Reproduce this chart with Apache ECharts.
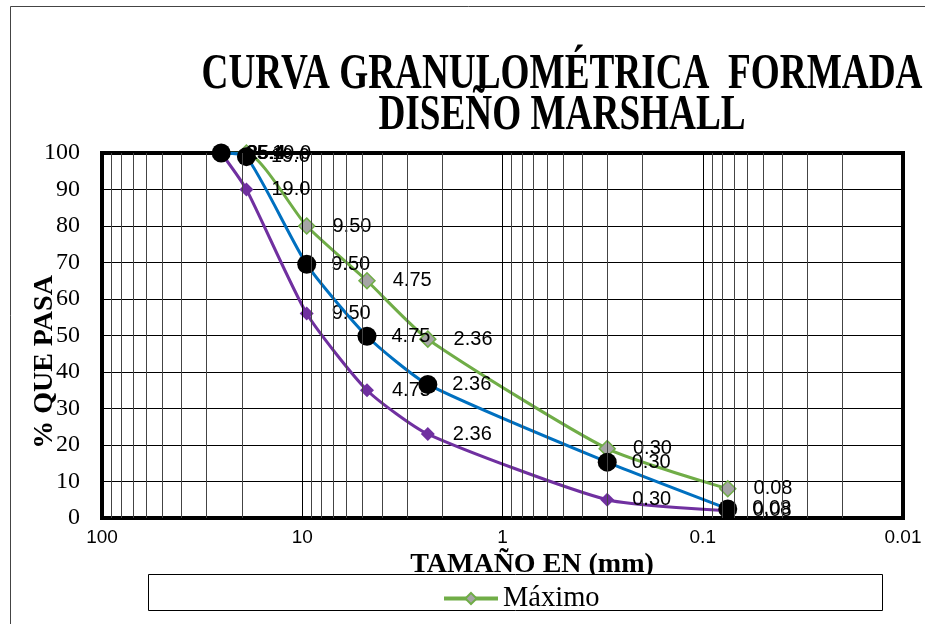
<!DOCTYPE html>
<html><head><meta charset="utf-8">
<script src="https://cdn.jsdelivr.net/npm/echarts@6/dist/echarts.min.js"></script>
<style>html,body{margin:0;padding:0;background:#fff}#c{width:925px;height:624px}</style>
</head><body><div id="c"></div>
<script>
var sizes = [25.4, 19.0, 9.50, 4.75, 2.36, 0.30, 0.075];
var sizeLabels = ['25.4', '19.0', '9.50', '4.75', '2.36', '0.30', '0.08'];
var maximo = [100, 100, 80, 65, 49, 19, 8];
var formada = [100, 99, 69.5, 49.8, 36.6, 15.3, 2.5];
var minimo = [100, 90, 56, 35, 23, 5, 2];
var xTickLabels = ['100', '10', '1', '0.1', '0.01'];
var majorGrid = [10, 1, 0.1];
var minorGrid = [];
[10, 1, 0.1, 0.01].forEach(function (d) { for (var k = 2; k <= 9; k++) minorGrid.push(+(d * k).toPrecision(3)); });

function pts(ys) { return sizes.map(function (s, i) { return [s, ys[i]]; }); }
var serif = '"Liberation Serif", "Times New Roman", serif';
var sans = '"Liberation Sans", Arial, sans-serif';
function lbl(dist) {
  return { show: true, position: 'right', distance: dist, color: '#000', fontFamily: sans, fontSize: 20,
    formatter: function (p) { return sizeLabels[p.dataIndex]; } };
}
var gridLines = majorGrid.map(function (v) { return { xAxis: v, lineStyle: { color: '#000', width: 1, type: 'solid' } }; })
  .concat(minorGrid.map(function (v) { return { xAxis: v, lineStyle: { color: '#444', width: 1, type: 'solid' } }; }));

var chart = echarts.init(document.getElementById('c'));
chart.setOption({
  animation: false,
  grid: { left: 102, right: 22, top: 153, bottom: 106, show: true, borderColor: '#000', borderWidth: 4, backgroundColor: 'transparent' },
  legend: {
    data: ['Máximo'], left: 437, top: 579, itemWidth: 54, itemHeight: 14, itemGap: 6,
    lineStyle: { width: 4 },
    textStyle: { fontFamily: serif, fontSize: 28.5, color: '#000' }
  },
  xAxis: {
    type: 'log', logBase: 10, min: 0.01, max: 100, inverse: true,
    axisLine: { show: false }, axisTick: { show: false },
    splitLine: { show: false },
    axisLabel: { fontFamily: sans, fontSize: 19, color: '#000', margin: 10,
      formatter: function (v) { var i = Math.round(2 - Math.log10(v)); return xTickLabels[i]; } }
  },
  yAxis: {
    type: 'value', min: 0, max: 100, interval: 10,
    axisLine: { show: false }, axisTick: { show: false },
    splitLine: { show: true, lineStyle: { color: '#000', width: 1 } },
    axisLabel: { fontFamily: serif, fontSize: 24, color: '#000', margin: 22 }
  },
  graphic: [
    { type: 'rect', z: 0, shape: { x: 10.5, y: 6.5, width: 1000, height: 700 }, style: { fill: 'none', stroke: '#444', lineWidth: 1 }, silent: true },
    { type: 'text', z: 1, x: 562, y: 75, scaleX: 0.73,
      style: { text: 'CURVA GRANULOMÉTRICA  FORMADA', fontFamily: serif, fontWeight: 'bold', fontSize: 51, fill: '#000', textAlign: 'center', textVerticalAlign: 'middle' } },
    { type: 'text', z: 1, x: 562, y: 116, scaleX: 0.73,
      style: { text: 'DISEÑO MARSHALL', fontFamily: serif, fontWeight: 'bold', fontSize: 51, fill: '#000', textAlign: 'center', textVerticalAlign: 'middle' } },
    { type: 'text', z: 1, x: 532, y: 565,
      style: { text: 'TAMAÑO EN (mm)', fontFamily: serif, fontWeight: 'bold', fontSize: 28, fill: '#000', textAlign: 'center', textVerticalAlign: 'middle' } },
    { type: 'rect', z: 2, shape: { x: 148.5, y: 574.5, width: 734, height: 36 }, style: { fill: '#fff', stroke: '#000', lineWidth: 1 }, silent: true },
    { type: 'text', z: 1, x: 45, y: 362, rotation: Math.PI / 2,
      style: { text: '% QUE PASA', fontFamily: serif, fontWeight: 'bold', fontSize: 28, fill: '#000', textAlign: 'center', textVerticalAlign: 'middle' } }
  ],
  series: [
    { name: 'grid', type: 'line', data: [], silent: true, z: 1,
      markLine: { silent: true, symbol: 'none', label: { show: false }, data: gridLines, animation: false } },
    { name: 'Máximo', type: 'line', data: pts(maximo), smooth: 0.2, z: 3,
      lineStyle: { color: '#70AD47', width: 3 }, symbol: 'diamond', symbolSize: 16,
      itemStyle: { color: '#A5A5A5', borderColor: '#70AD47', borderWidth: 1.5 }, label: lbl(17) },
    { name: 'Mínimo', type: 'line', data: pts(minimo), smooth: 0.2, z: 3,
      lineStyle: { color: '#7030A0', width: 3 }, symbol: 'diamond', symbolSize: 14,
      itemStyle: { color: '#7030A0' }, label: lbl(18) },
    { name: 'Formada', type: 'line', data: pts(formada), smooth: 0.2, z: 4,
      lineStyle: { color: '#0070C0', width: 3 }, symbol: 'circle', symbolSize: 19,
      itemStyle: { color: '#000' }, label: lbl(15) }
  ]
});
</script></body></html>
